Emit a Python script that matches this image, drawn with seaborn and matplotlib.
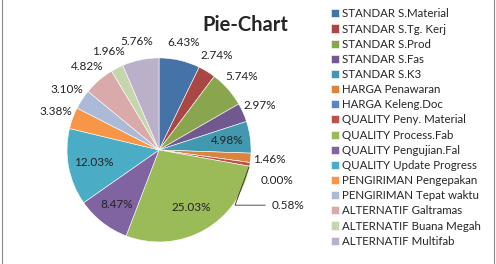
import matplotlib
matplotlib.use("Agg")
import matplotlib.pyplot as plt
import seaborn as sns
import numpy as np

# data
categories = ["STANDAR S.Material", "STANDAR S.Tg. Kerj", "STANDAR S.Prod", "STANDAR S.Fas",
              "STANDAR S.K3", "HARGA Penawaran", "HARGA Keleng.Doc", "QUALITY Peny. Material",
              "QUALITY Process.Fab", "QUALITY Pengujian.Fal", "QUALITY Update Progress",
              "PENGIRIMAN Pengepakan", "PENGIRIMAN Tepat waktu", "ALTERNATIF Galtramas",
              "ALTERNATIF Buana Megah", "ALTERNATIF Multifab"]
values = [6.43, 2.74, 5.74, 2.97, 4.98, 1.46, 0.00, 0.58,
          25.03, 8.47, 12.03, 3.38, 3.10, 4.82, 1.96, 5.76]
pct_labels = ["{:.2f}%".format(v) for v in values]

colors = ["#4572A7", "#AA4643", "#89A54E", "#71588F", "#4198AF", "#DB843D", "#5B86C5", "#C0504D",
          "#9BBB59", "#8064A2", "#4BACC6", "#F79646", "#AABAD7", "#D9AAA9", "#C6D6AC", "#BAB0C9"]

sns.set_style("white")
plt.rcParams['font.family'] = ['Lato', 'DejaVu Sans']

fig = plt.figure(figsize=(4.96, 2.64), dpi=100)
ax = fig.add_axes([0.0516, -0.0735, 0.538, 1.011])

wedges, _ = ax.pie(values, colors=sns.color_palette(colors), startangle=90, counterclock=False,
                   wedgeprops=dict(edgecolor="white", linewidth=0.4))
ax.set_xlim(-1.45, 1.45)
ax.set_ylim(-1.45, 1.45)
ax.set_aspect("equal")
ax.axis("off")

inside = {4.98: 0.75, 12.03: 0.72, 8.47: 0.75, 25.03: 0.72}

# labels: big slices inside, small ones outside
for w, lab, v in zip(wedges, pct_labels, values):
    if v in (0.00, 0.58):
        continue
    mid = np.deg2rad((w.theta1 + w.theta2) / 2)
    r = inside.get(v, 1.2)
    ax.text(r * np.cos(mid), r * np.sin(mid), lab, ha="center", va="center",
            fontsize=8.5, color="#222222")

# leader labels for the tiny slices
for w, lab, v in zip(wedges, pct_labels, values):
    if v not in (0.00, 0.58):
        continue
    mid = np.deg2rad((w.theta1 + w.theta2) / 2)
    if v == 0.00:
        ax.text(1.1, -0.33, lab, ha="left", va="center", fontsize=8.5, color="#222222")
    else:
        ax.annotate(lab, xy=(np.cos(mid), np.sin(mid)), xytext=(1.22, -0.6),
                    ha="left", va="center", fontsize=8.5, color="#222222",
                    arrowprops=dict(arrowstyle="-", color="#333333", lw=0.6,
                                    connectionstyle="angle,angleA=0,angleB=70"))

fig.text(245 / 496, 1 - 25 / 264, "Pie-Chart", ha="center", va="center",
         fontsize=14.5, fontweight="bold")

fig.legend(wedges, categories, loc="upper left", bbox_to_anchor=(0.655, 0.99),
           frameon=False, fontsize=8.3, handlelength=0.7, handleheight=0.7,
           handletextpad=0.3, labelspacing=0.36, borderpad=0)

fig.add_artist(plt.Rectangle((0.004, -0.01), 0.991, 1.02, transform=fig.transFigure,
                             fill=False, edgecolor="#8c8c8c", linewidth=0.8))

plt.savefig("out.png", dpi=100)
